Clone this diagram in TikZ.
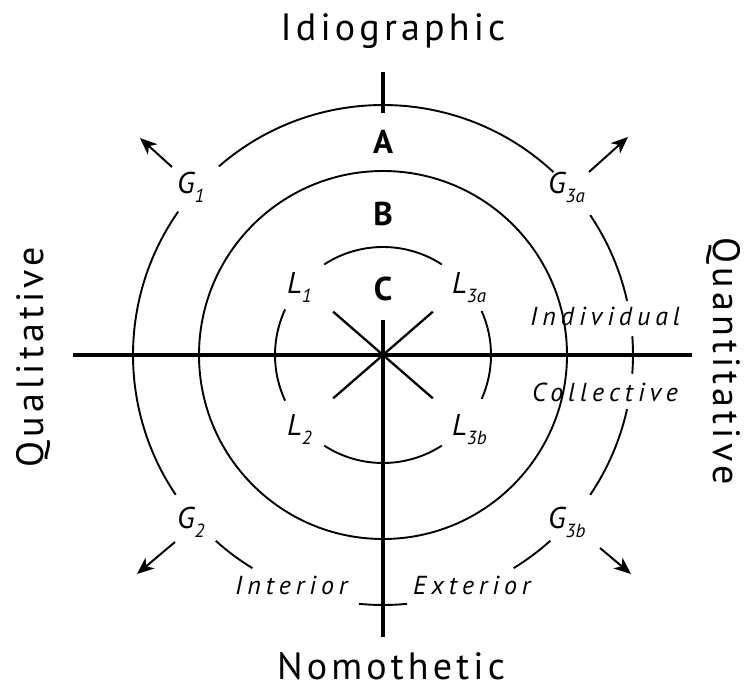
\documentclass[tikz,border=0pt]{standalone}
\usepackage{fontspec}
\setmainfont{PT Sans}
\usetikzlibrary{arrows.meta,calc}
\newcommand\lowsub[1]{\raisebox{-0.3em}{\fontsize{19}{19}\selectfont\itshape #1}}
\begin{document}
\begin{tikzpicture}[x=1pt,y=1pt,
  ring/.style={line width=1.9pt},
  axisline/.style={line width=3.8pt},
  spoke/.style={line width=2.3pt},
  outarrow/.style={line width=2pt,-{Stealth[length=17pt,width=14pt,inset=5pt]}},
  bigtitle/.style={font=\fontsize{38}{38}\selectfont\addfontfeatures{LetterSpace=11}, inner sep=0pt},
  zone/.style={font=\fontsize{33}{33}\selectfont\bfseries, inner sep=0pt, anchor=base},
  sym/.style={font=\fontsize{30}{30}\selectfont\itshape, inner sep=0pt, anchor=base west},
  spaced/.style={font=\fontsize{26}{26}\selectfont\itshape\addfontfeatures{LetterSpace=19}, inner sep=0pt, anchor=base west}
]
\useasboundingbox (0,0) rectangle (753,-688);
\coordinate (O) at (383,-355);
% circles
\draw[ring] (O) circle[radius=184];
\foreach \a/\b in {47/131,145/214,228/238.5,264.5/275.5,301.5/312,326/347.5,12.5/34,-4.3/4.3}
  \draw[ring] ($(O)+(\a:250)$) arc[start angle=\a,end angle=\b,radius=250];
\foreach \a/\b in {57/123,155/205,-24/24,237/303}
  \draw[ring] ($(O)+(\a:108)$) arc[start angle=\a,end angle=\b,radius=108];
% axes
\coordinate (hl) at (73,-355);
\coordinate (hr) at (692,-355);
\coordinate (vt) at (383,-320);
\coordinate (vb) at (383,-637);
\coordinate (tt) at (383,-72);
\coordinate (tb) at (383,-113);
\draw[axisline] (hl) -- (hr);
\draw[axisline] (vt) -- (vb);
\draw[axisline] (tt) -- (tb);
% spokes
\foreach \a [count=\i] in {41,139,221,319}
  \coordinate (s\i) at ($(O)+(\a:66)$);
\foreach \i in {1,...,4}
  \draw[spoke] (O) -- (s\i);
% arrows
\coordinate (a1s) at (172,-167); \coordinate (a1e) at (140,-138);
\coordinate (a2s) at (589,-172); \coordinate (a2e) at (628,-137);
\coordinate (a3s) at (175,-542); \coordinate (a3e) at (137,-574);
\coordinate (a4s) at (600,-548); \coordinate (a4e) at (631,-574);
\draw[outarrow] (a1s) -- (a1e);
\draw[outarrow] (a2s) -- (a2e);
\draw[outarrow] (a3s) -- (a3e);
\draw[outarrow] (a4s) -- (a4e);
% titles
\node[bigtitle, anchor=base] (idio) at (393,-40) {Idiographic};
\node[bigtitle, anchor=base] (nomo) at (391,-679) {Nomothetic};
\node[bigtitle, rotate=90] (qual) at (33,-357) {Qualitative};
\node[bigtitle, rotate=-90] (quan) at (724,-361) {Quantitative};
% zones
\node[zone] (A) at (383,-153) {A};
\node[zone] (B) at (383,-225) {B};
\node[zone] (C) at (383,-300) {C};
% symbols
\node[sym] (L1) at (287,-293) {L\lowsub{1}};
\node[sym] (L3a) at (452,-293) {L\lowsub{3a}};
\node[sym] (L2) at (287,-435) {L\lowsub{2}};
\node[sym] (L3b) at (452,-435) {L\lowsub{3b}};
\node[sym] (G1) at (177,-193) {G\lowsub{1}};
\node[sym] (G3a) at (548,-193) {G\lowsub{3a}};
\node[sym] (G2) at (177,-528) {G\lowsub{2}};
\node[sym] (G3b) at (548,-528) {G\lowsub{3b}};
% spaced labels
\node[spaced] (ind) at (530,-325) {Individual};
\node[spaced] (col) at (532,-401) {Collective};
\node[spaced] (int) at (235,-594) {Interior};
\node[spaced] (ext) at (413,-594) {Exterior};
\end{tikzpicture}
\end{document}
